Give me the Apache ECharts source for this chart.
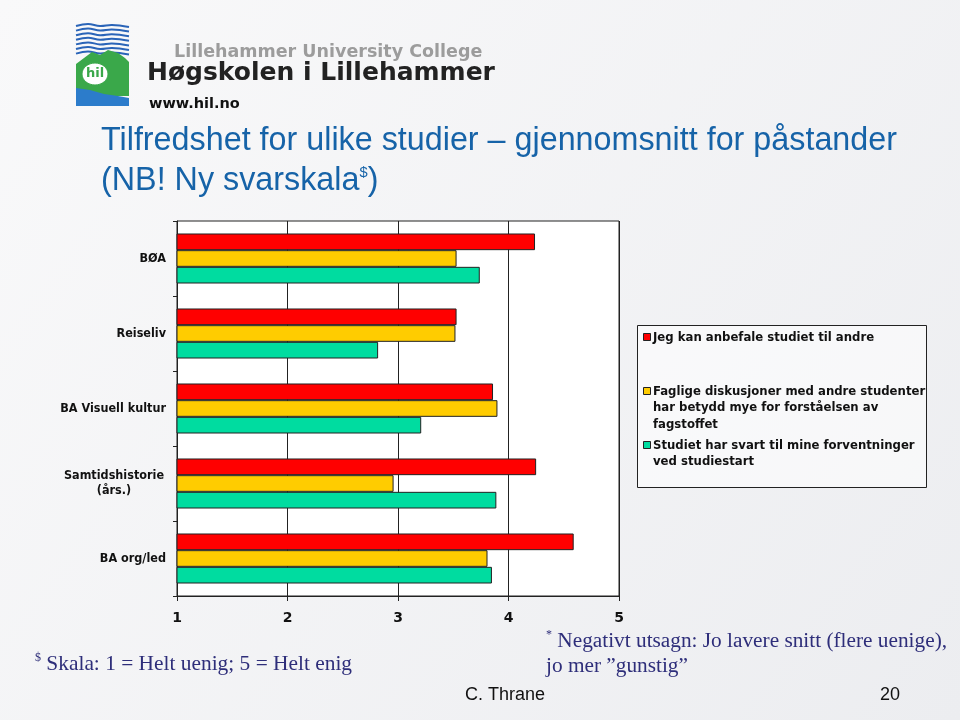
<!DOCTYPE html>
<html>
<head>
<meta charset="utf-8">
<script src="https://cdn.jsdelivr.net/npm/echarts@6/dist/echarts.min.js"></script>
<style>
html,body{margin:0;padding:0;background:#F3F4F6;}
#c{width:960px;height:720px;}
</style>
</head>
<body>
<div id="c"></div>
<script>
// ---- data ----
const categories = ['BØA', 'Reiseliv', 'BA Visuell kultur', 'Samtidshistorie\n(års.)', 'BA org/led'];
const seriesNames = [
  'Jeg kan anbefale studiet til andre',
  'Faglige diskusjoner med andre studenter har betydd mye for forståelsen av fagstoffet',
  'Studiet har svart til mine forventninger ved studiestart'
];
const legendLabels = [
  'Jeg kan anbefale studiet til andre',
  'Faglige diskusjoner med andre studenter\nhar betydd mye for forståelsen av\nfagstoffet',
  'Studiet har svart til mine forventninger\nved studiestart'
];
const anbefale = [4.24, 3.53, 3.86, 4.25, 4.59];
const faglige = [3.53, 3.52, 3.90, 2.96, 3.81];
const forventninger = [3.74, 2.82, 3.21, 3.89, 3.85];
const xTicks = [1, 2, 3, 4, 5];
const titleLines = ['Tilfredshet for ulike studier – gjennomsnitt for påstander', '(NB! Ny svarskala{sup|$})'];
const colors = ['#FF0000', '#FFCC00', '#00DCA0'];

const chart = echarts.init(document.getElementById('c'), null, {renderer: 'canvas'});
const seriesData = [anbefale, faglige, forventninger];

const sans = 'DejaVu Sans';
const cond = "'DejaVu Sans Condensed', 'DejaVu Sans'";

// title horizontal scale to mimic narrow font
const mctx = document.createElement('canvas').getContext('2d');
mctx.font = '33px "Liberation Sans"';
const titleScale = 796 / mctx.measureText(titleLines[0]).width;

const legendGraphics = [];
const legendY = [337, 391, 445];
for (let i = 0; i < 3; i++) {
  legendGraphics.push({
    type: 'rect', shape: {x: 643.5, y: legendY[i] - 3.5, width: 7, height: 7},
    style: {fill: colors[i], stroke: '#222', lineWidth: 1}
  });
  legendGraphics.push({
    type: 'text', x: 653, y: legendY[i] - 8,
    style: {text: legendLabels[i], fontFamily: cond, fontWeight: 'bold', fontSize: 13,
      lineHeight: 16.5, fill: '#111', verticalAlign: 'top', align: 'left'}
  });
}

const option = {
  backgroundColor: {
    type: 'linear', x: 0, y: 0, x2: 1, y2: 1,
    colorStops: [{offset: 0, color: '#F9F9FA'}, {offset: 1, color: '#ECEDF0'}]
  },
  animation: false,
  grid: {
    left: 177, right: 341, top: 221, bottom: 124,
    show: true, backgroundColor: '#FFFFFF', borderColor: '#222', borderWidth: 1
  },
  xAxis: {
    type: 'value', min: xTicks[0], max: xTicks[xTicks.length - 1], interval: 1,
    axisLine: {show: true, lineStyle: {color: '#222', width: 1}},
    axisTick: {show: true, length: 5, lineStyle: {color: '#222'}},
    splitLine: {show: true, lineStyle: {color: '#222', width: 1}},
    axisLabel: {fontFamily: sans, fontWeight: 'bold', fontSize: 14, color: '#111', margin: 15}
  },
  yAxis: {
    type: 'category', data: categories, inverse: true,
    axisLine: {show: true, lineStyle: {color: '#222', width: 1}},
    axisTick: {show: true, length: 4, lineStyle: {color: '#222'}},
    axisLabel: {
      fontFamily: cond, fontWeight: 'bold', fontSize: 12.5, color: '#111', margin: 11, lineHeight: 15,
      formatter: function (v) {
        if (v.indexOf('\n') >= 0) {
          return v.split('\n').map(function (s) { return '{c|' + s + '}'; }).join('\n');
        }
        return v;
      },
      rich: {c: {fontFamily: cond, fontWeight: 'bold', fontSize: 12.5, color: '#111', width: 104, align: 'center', lineHeight: 15}}
    }
  },
  series: seriesData.map(function (d, i) {
    return {
      type: 'bar', name: seriesNames[i], data: d,
      barGap: '0%', barCategoryGap: '33.3%', clip: true,
      itemStyle: {color: colors[i], borderColor: '#222', borderWidth: 1}
    };
  }),
  graphic: [
    // logo
    {type: 'group', children: (function () {
      const arr = [];
      for (let k = 0; k < 7; k++) {
        const y0 = 24 + k * 4.6;
        arr.push({type: 'polyline', shape: {points: [[76, y0 + 2], [88, y0], [100, y0 + 2], [112, y0 + 1], [129, y0 + 3]], smooth: 0.4},
          style: {stroke: '#2A64B8', lineWidth: 2, fill: null}});
      }
      arr.push({type: 'polygon', shape: {points: [[76, 64], [84, 58], [92, 52], [100, 55], [108, 50], [118, 53], [125, 58], [129, 62], [129, 96], [76, 96]]},
        style: {fill: '#3AA84A'}});
      arr.push({type: 'polygon', shape: {points: [[76, 88], [90, 90], [104, 94], [118, 96], [129, 98], [129, 106], [76, 106]]},
        style: {fill: '#2C7CCB'}});
      arr.push({type: 'ellipse', shape: {cx: 95, cy: 74, rx: 13, ry: 11}, style: {fill: '#fff', stroke: '#3AA84A', lineWidth: 1}});
      arr.push({type: 'text', x: 95, y: 74, style: {text: 'hil', fontFamily: sans, fontWeight: 'bold', fontSize: 13, fill: '#3AA84A', align: 'center', verticalAlign: 'middle'}});
      return arr;
    })()},
    {type: 'text', x: 174, y: 52, style: {text: 'Lillehammer University College', fontFamily: sans, fontWeight: 'bold', fontSize: 17.5, fill: '#9C9C9C', verticalAlign: 'middle'}},
    {type: 'text', x: 147, y: 73, style: {text: 'Høgskolen i Lillehammer', fontFamily: sans, fontWeight: 'bold', fontSize: 25, fill: '#222', verticalAlign: 'middle'}},
    {type: 'text', x: 149, y: 104, style: {text: 'www.hil.no', fontFamily: sans, fontWeight: 'bold', fontSize: 14.5, fill: '#111', verticalAlign: 'middle'}},
    // title
    {type: 'text', x: 101, y: 121, scaleX: titleScale, style: {
      text: titleLines.join('\n'), fontFamily: 'Liberation Sans', fontSize: 33, fill: '#1663A8',
      lineHeight: 40, verticalAlign: 'top',
      rich: {sup: {fontFamily: 'Liberation Sans', fontSize: 15, fill: '#1663A8', verticalAlign: 'top', lineHeight: 40, padding: [4, 0, 0, 0]}}}},
    // legend box
    {type: 'rect', shape: {x: 637.5, y: 325.5, width: 289, height: 162},
      style: {fill: 'rgba(255,255,255,0.55)', stroke: '#222', lineWidth: 1}},
    ...legendGraphics,
    // footnotes
    {type: 'text', x: 35, y: 652, style: {text: '{s|$} Skala: 1 = Helt uenig; 5 = Helt enig',
      fontFamily: 'Liberation Serif', fontSize: 21.4, fill: '#2E2E7A', verticalAlign: 'top', lineHeight: 25,
      rich: {s: {fontFamily: 'Liberation Serif', fontSize: 12, fill: '#2E2E7A', verticalAlign: 'top', lineHeight: 25}}}},
    {type: 'text', x: 546, y: 629, style: {text: '{s|*} Negativt utsagn: Jo lavere snitt (flere uenige),\njo mer \u201Dgunstig\u201D',
      fontFamily: 'Liberation Serif', fontSize: 21.3, fill: '#2E2E7A', verticalAlign: 'top', lineHeight: 25,
      rich: {s: {fontFamily: 'Liberation Serif', fontSize: 12, fill: '#2E2E7A', verticalAlign: 'top', lineHeight: 25}}}},
    {type: 'text', x: 465, y: 695, style: {text: 'C. Thrane', fontFamily: 'Liberation Sans', fontSize: 18, fill: '#111', verticalAlign: 'middle'}},
    {type: 'text', x: 900, y: 695, style: {text: '20', fontFamily: 'Liberation Sans', fontSize: 18, fill: '#111', align: 'right', verticalAlign: 'middle'}}
  ]
};
chart.setOption(option);
</script>
</body>
</html>
